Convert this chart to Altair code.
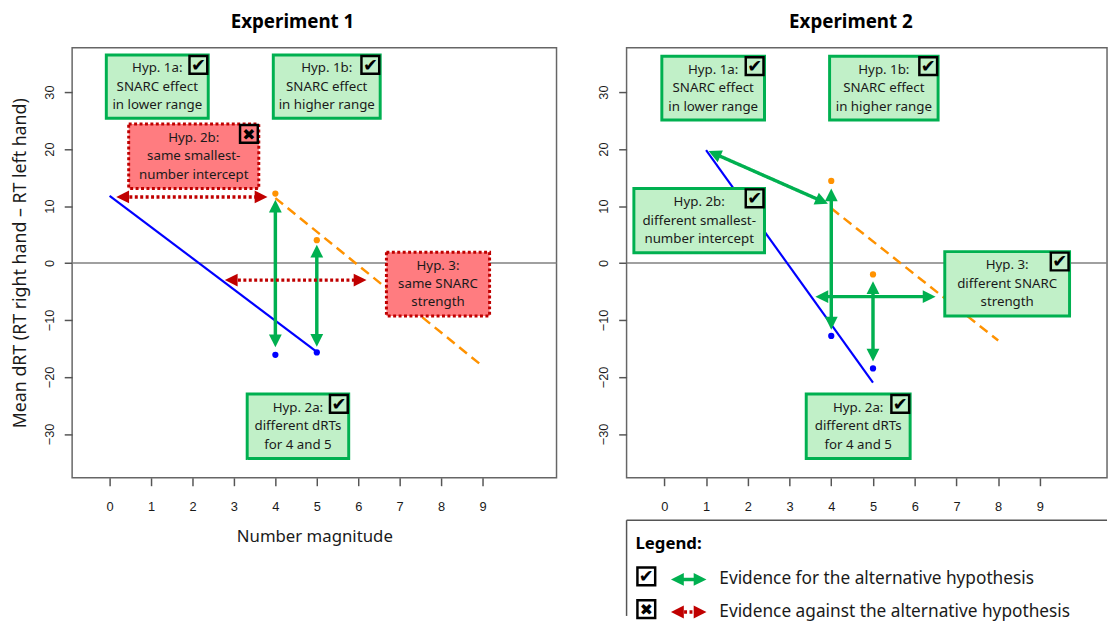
import math
import altair as alt
import pandas as pd

# ---------------- data ----------------
# Experiment 1
e1_blue_line_x = [0, 5]
e1_blue_line_y = [11.8, -15.6]
e1_orange_line_x = [4, 9]
e1_orange_line_y = [11.4, -18.1]
e1_blue_pts_x = [4, 5]
e1_blue_pts_y = [-16.1, -15.7]
e1_orange_pts_x = [4, 5]
e1_orange_pts_y = [12.2, 4.0]
e1_arrow_x1 = [4, 5, 0.16, 2.78]
e1_arrow_y1 = [11.1, 3.2, 11.6, -3.0]
e1_arrow_x2 = [4, 5, 3.81, 6.2]
e1_arrow_y2 = [-14.8, -14.7, 11.6, -3.0]
e1_arrow_kind = ["for", "for", "against", "against"]
e1_box_label = ["Hyp. 1a:\nSNARC effect\nin lower range",
                "Hyp. 1b:\nSNARC effect\nin higher range",
                "Hyp. 2b:\nsame smallest-\nnumber intercept",
                "Hyp. 3:\nsame SNARC\nstrength",
                "Hyp. 2a:\ndifferent dRTs\nfor 4 and 5"]
e1_box_x1 = [-0.08, 3.95, 0.46, 6.68, 3.32]
e1_box_x2 = [2.38, 6.53, 3.60, 9.17, 5.77]
e1_box_top = [36.5, 36.5, 24.4, 1.9, -23.0]
e1_box_bottom = [25.4, 25.4, 13.1, -9.3, -34.3]
e1_box_kind = ["for", "for", "against", "against", "for"]
e1_box_glyph = ["✔", "✔", "✖", "", "✔"]

# Experiment 2
e2_blue_line_x = [1, 5]
e2_blue_line_y = [19.8, -21.0]
e2_orange_line_x = [4, 8]
e2_orange_line_y = [9.6, -13.6]
e2_blue_pts_x = [4, 5]
e2_blue_pts_y = [-12.8, -18.5]
e2_orange_pts_x = [4, 5]
e2_orange_pts_y = [14.4, -2.0]
e2_arrow_x1 = [1.06, 4, 5, 3.62]
e2_arrow_y1 = [19.65, 13.1, -3.2, -5.9]
e2_arrow_x2 = [3.92, 4, 5, 6.5]
e2_arrow_y2 = [10.4, -11.7, -17.3, -5.9]
e2_arrow_kind = ["for", "for", "for", "for"]
e2_box_label = ["Hyp. 1a:\nSNARC effect\nin lower range",
                "Hyp. 1b:\nSNARC effect\nin higher range",
                "Hyp. 2b:\ndifferent smallest-\nnumber intercept",
                "Hyp. 3:\ndifferent SNARC\nstrength",
                "Hyp. 2a:\ndifferent dRTs\nfor 4 and 5"]
e2_box_x1 = [-0.06, 3.96, -0.73, 6.72, 3.40]
e2_box_x2 = [2.40, 6.56, 2.40, 9.71, 5.89]
e2_box_top = [36.3, 36.3, 13.1, 2.0, -23.0]
e2_box_bottom = [25.1, 25.1, 1.8, -9.3, -34.3]
e2_box_kind = ["for", "for", "for", "for", "for"]
e2_box_glyph = ["✔", "✔", "✔", "✔", "✔"]

x_ticks = [0, 1, 2, 3, 4, 5, 6, 7, 8, 9]
y_ticks = [-30, -20, -10, 0, 10, 20, 30]

legend_labels = ["Evidence for the alternative hypothesis",
                 "Evidence against the alternative hypothesis"]
legend_kinds = ["for", "against"]
legend_glyphs = ["✔", "✖"]

# ---------------- styling / layout ----------------
GREEN = "#00B050"
RED = "#C00000"
GREEN_FILL = "#C1F0C8"
RED_FILL = "#FF7C80"
BLUE = "#0000FF"
ORANGE = "#FF9200"
TXT = "#1a1a1a"
FONT = "Noto Sans"
LINE_H = 18.7

XMIN, YMIN, YMAX = -0.905, -37.7, 37.8
W1, W2, H = 491, 487, 436
XMAX1 = XMIN + W1 / 42.0
XMAX2 = XMIN + W2 / 42.3
HEAD = 13.0
HEAD_PATH = "M0,0L-1,2L1,2Z"

kind_dom = ["for", "against"]
color_scale = alt.Scale(domain=kind_dom, range=[GREEN, RED])
fill_scale = alt.Scale(domain=kind_dom, range=[GREEN_FILL, RED_FILL])
dash_scale = alt.Scale(domain=kind_dom, range=[[1, 0], [3, 2.5]])
glyph_size_scale = alt.Scale(domain=["✔", "✖"], range=[18, 16])


def arrow_frames(x1s, y1s, x2s, y2s, kinds, kx, ky):
    segs, heads = [], []
    for x1, y1, x2, y2, k in zip(x1s, y1s, x2s, y2s, kinds):
        dxp = (x2 - x1) * kx
        dyp = -(y2 - y1) * ky
        L = math.hypot(dxp, dyp)
        ux, uy = dxp / L, dyp / L
        s = HEAD * 0.6
        segs.append(dict(x=x1 + ux * s / kx, y=y1 - uy * s / ky,
                         x2=x2 - ux * s / kx, y2=y2 + uy * s / ky, kind=k))
        a2 = math.degrees(math.atan2(ux, -uy)) % 360
        heads.append(dict(x=x2, y=y2, angle=a2, kind=k))
        heads.append(dict(x=x1, y=y1, angle=(a2 + 180) % 360, kind=k))
    return pd.DataFrame(segs), pd.DataFrame(heads)


def arrow_layers(segs, heads, X, Y, X2, Y2):
    lines = alt.Chart(segs).mark_rule(strokeWidth=3.5, strokeCap="butt").encode(
        x=X("x"), y=Y("y"), x2=X2("x2"), y2=Y2("y2"),
        color=alt.Color("kind:N", scale=color_scale, legend=None),
        strokeDash=alt.StrokeDash("kind:N", scale=dash_scale, legend=None),
    )
    tips = alt.Chart(heads).mark_point(shape=HEAD_PATH, filled=True, size=HEAD * HEAD,
                                       opacity=1, strokeWidth=0).encode(
        x=X("x"), y=Y("y"),
        angle=alt.Angle("angle:Q", scale=None),
        color=alt.Color("kind:N", scale=color_scale, legend=None),
    )
    return [lines, tips]


def panel(title, xmax, width, blx, bly, olx, oly, bpx, bpy, opx, opy,
          ax1, ay1, ax2, ay2, akind, bl, bx1, bx2, bt, bb, bk, bg, first, dx):
    kx = width / (xmax - XMIN)
    ky = H / (YMAX - YMIN)
    xs = alt.Scale(domain=[XMIN, xmax], nice=False, zero=False)
    ys = alt.Scale(domain=[YMIN, YMAX], nice=False, zero=False)
    xaxis = alt.Axis(values=x_ticks, tickSize=8, tickWidth=1.5, tickColor="#555",
                     domain=False, grid=False, labelFont="Liberation Sans",
                     labelFontSize=13, labelColor=TXT, labelPadding=15,
                     titleFont=FONT, titleFontSize=17, titleFontWeight="normal",
                     titleColor=TXT, titlePadding=16)
    yaxis = alt.Axis(values=y_ticks, tickSize=8, tickWidth=1.5, tickColor="#555",
                     domain=False, grid=False, labelFont="Liberation Sans",
                     labelFontSize=13, labelColor=TXT, labelPadding=8,
                     labelAngle=-90, labelAlign="center", labelBaseline="bottom",
                     titleFont=FONT, titleFontSize=18, titleFontWeight="normal",
                     titleColor=TXT, titlePadding=14)
    xt = "Number magnitude" if first else None
    yt = "Mean dRT (RT right hand – RT left hand)" if first else None

    def X(f):
        return alt.X(f, type="quantitative", scale=xs, axis=xaxis, title=xt)

    def Y(f):
        return alt.Y(f, type="quantitative", scale=ys, axis=yaxis, title=yt)

    X2, Y2 = alt.X2, alt.Y2

    zero = alt.Chart(pd.DataFrame({"x": [XMIN], "y": [0]})).mark_rule(
        color="#808080", strokeWidth=1.5).encode(y=Y("y"))
    blue = alt.Chart(pd.DataFrame({"x": blx, "y": bly})).mark_line(
        color=BLUE, strokeWidth=2.2).encode(x=X("x"), y=Y("y"))
    orange = alt.Chart(pd.DataFrame({"x": olx, "y": oly})).mark_line(
        color=ORANGE, strokeWidth=2.5, strokeDash=[10, 6]).encode(x=X("x"), y=Y("y"))
    bpts = alt.Chart(pd.DataFrame({"x": bpx, "y": bpy})).mark_circle(
        color=BLUE, size=40, opacity=1).encode(x=X("x"), y=Y("y"))
    opts = alt.Chart(pd.DataFrame({"x": opx, "y": opy})).mark_circle(
        color=ORANGE, size=40, opacity=1).encode(x=X("x"), y=Y("y"))

    segs, heads = arrow_frames(ax1, ay1, ax2, ay2, akind, kx, ky)
    arrows = arrow_layers(segs, heads, X, Y, X2, Y2)

    boxes_df = pd.DataFrame({"label": bl, "x1": bx1, "x2": bx2, "top": bt,
                             "bottom": bb, "kind": bk, "glyph": bg})
    boxes_df["xc"] = (boxes_df["x1"] + boxes_df["x2"]) / 2
    boxes_df["yc"] = (boxes_df["top"] + boxes_df["bottom"]) / 2
    box_layers = []
    for k, col, fill, dash in [("for", GREEN, GREEN_FILL, [1, 0]),
                               ("against", RED, RED_FILL, [3, 2.5])]:
        sub = boxes_df[boxes_df["kind"] == k]
        if len(sub):
            box_layers.append(alt.Chart(sub).mark_rect(
                strokeWidth=3, stroke=col, fill=fill, strokeDash=dash).encode(
                x=X("x1"), x2=X2("x2"), y=Y("top"), y2=Y2("bottom")))
    texts = alt.Chart(boxes_df).mark_text(
        lineBreak="\n", lineHeight=LINE_H, fontSize=13.5, font=FONT, color=TXT,
        align="center", baseline="middle", dy=-LINE_H).encode(
        x=X("xc"), y=Y("yc"), text="label:N")
    marked = boxes_df[boxes_df["glyph"] != ""]
    cboxes = alt.Chart(marked).mark_square(
        size=324, stroke="black", strokeWidth=2.5, opacity=1, xOffset=-10, yOffset=10).encode(
        x=X("x2"), y=Y("top"),
        fill=alt.Fill("kind:N", scale=fill_scale, legend=None))
    glyphs = alt.Chart(marked).mark_text(
        font="DejaVu Sans", color="black",
        xOffset=-10, yOffset=11, align="center", baseline="middle").encode(
        x=X("x2"), y=Y("top"), text="glyph:N",
        size=alt.Size("glyph:N", scale=glyph_size_scale, legend=None))

    layers = [zero, blue, orange, bpts, opts] + arrows + box_layers + [texts, cboxes, glyphs]
    return alt.layer(*layers).properties(
        width=width, height=H,
        title=alt.TitleParams(title, font=FONT, fontSize=19, fontWeight="bold",
                              color="black", frame="bounds", anchor="middle",
                              offset=16, dx=dx))


left = panel("Experiment 1", XMAX1, W1, e1_blue_line_x, e1_blue_line_y,
             e1_orange_line_x, e1_orange_line_y, e1_blue_pts_x, e1_blue_pts_y,
             e1_orange_pts_x, e1_orange_pts_y, e1_arrow_x1, e1_arrow_y1,
             e1_arrow_x2, e1_arrow_y2, e1_arrow_kind, e1_box_label, e1_box_x1,
             e1_box_x2, e1_box_top, e1_box_bottom, e1_box_kind, e1_box_glyph, True, 8)
right = panel("Experiment 2", XMAX2, W2, e2_blue_line_x, e2_blue_line_y,
              e2_orange_line_x, e2_orange_line_y, e2_blue_pts_x, e2_blue_pts_y,
              e2_orange_pts_x, e2_orange_pts_y, e2_arrow_x1, e2_arrow_y1,
              e2_arrow_x2, e2_arrow_y2, e2_arrow_kind, e2_box_label, e2_box_x1,
              e2_box_x2, e2_box_top, e2_box_bottom, e2_box_kind, e2_box_glyph, False, -2)

# ---------------- legend panel (its own pixel-unit scales) ----------------
LEG_H = 97
lx = alt.Scale(domain=[0, W2], nice=False, zero=False)
ly = alt.Scale(domain=[0, LEG_H], nice=False, zero=False)


def LX(f):
    return alt.X(f, type="quantitative", scale=lx, axis=None)


def LY(f):
    return alt.Y(f, type="quantitative", scale=ly, axis=None)


row_y = [LEG_H - 60, LEG_H - 93]
border = alt.Chart(pd.DataFrame({"x": [0, 0], "y": [0, LEG_H],
                                 "x2": [0, W2], "y2": [LEG_H, LEG_H]})).mark_rule(
    color="#555", strokeWidth=1.5).encode(x=LX("x"), y=LY("y"), x2=alt.X2("x2"), y2=alt.Y2("y2"))
leg_title = alt.Chart(pd.DataFrame({"x": [9], "y": [LEG_H - 24], "t": ["Legend:"]})).mark_text(
    font=FONT, fontSize=17, fontWeight="bold", color="black", align="left",
    baseline="middle").encode(x=LX("x"), y=LY("y"), text="t:N")
leg_df = pd.DataFrame({"kind": legend_kinds, "label": legend_labels,
                       "glyph": legend_glyphs, "y": row_y})
leg_df["xb"] = 20
leg_df["xt"] = 94
leg_df["yb"] = leg_df["y"] + 3
leg_boxes = alt.Chart(leg_df).mark_square(size=324, fill="white", stroke="black",
                                          strokeWidth=2.5, opacity=1).encode(
    x=LX("xb"), y=LY("yb"))
leg_glyphs = alt.Chart(leg_df).mark_text(font="DejaVu Sans",
                                         color="black", align="center", baseline="middle",
                                         yOffset=1).encode(
    x=LX("xb"), y=LY("yb"), text="glyph:N",
    size=alt.Size("glyph:N", scale=glyph_size_scale, legend=None))
leg_text = alt.Chart(leg_df).mark_text(font=FONT, fontSize=17.5, color=TXT, align="left",
                                       baseline="middle").encode(
    x=LX("xt"), y=LY("y"), text="label:N")
lsegs, lheads = arrow_frames([45, 45], row_y, [81, 81], row_y, legend_kinds, 1.0, 1.0)
leg_arrows = arrow_layers(lsegs, lheads, LX, LY, alt.X2, alt.Y2)
legend = alt.layer(border, leg_title, leg_boxes, leg_glyphs, leg_text, *leg_arrows).properties(
    width=W2, height=LEG_H, view=alt.ViewBackground(strokeOpacity=0))

chart = alt.hconcat(left, alt.vconcat(right, legend, spacing=5), spacing=39).properties(
    padding={"left": 3, "top": 0, "right": 0, "bottom": 0}, background="white"
).configure_view(stroke="#666", strokeWidth=1.5)

chart.save("out.html", embed_options={"renderer": "svg", "actions": False})
